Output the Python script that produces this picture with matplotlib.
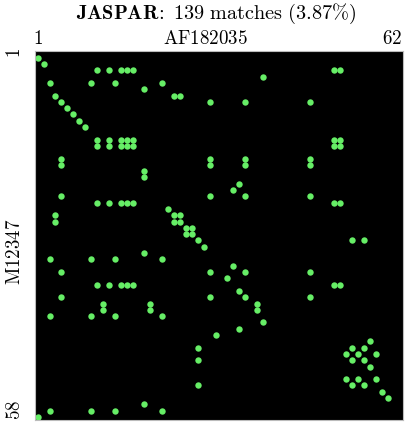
import matplotlib
matplotlib.use("Agg")
import matplotlib.pyplot as plt

plt.rcParams['mathtext.fontset'] = 'cm'

# dot plot of motif matches: sequence on x, motif on y
db_name = "JASPAR"
seq_x = "AF182035"
seq_y = "M12347"
len_x = 62
len_y = 58
n_matches = 139
pct_matches = 3.87

# one entry per match (row in y-sequence, column in x-sequence)
match_rows = [1, 2,
              3, 3, 3, 3, 3, 3, 3,
              4,
              5, 5, 5, 5,
              6,
              7, 7, 7,
              8, 8, 8, 8,
              9, 10, 11, 12,
              14, 14, 14, 14, 14, 14, 14,
              15, 15, 15, 15, 15, 15, 15,
              17, 17, 17, 17,
              18, 18, 18, 18,
              19, 20, 21, 22,
              23, 23, 23, 23,
              24, 24, 24, 24, 24, 24, 24,
              25,
              26, 26, 26,
              27, 27, 27,
              28, 28,
              29, 29,
              30, 30, 30,
              31, 32,
              33, 33, 33, 33,
              34,
              35, 35, 35, 35,
              36,
              37, 37, 37, 37, 37, 37, 37,
              38,
              39, 39, 39, 39,
              40, 40, 40,
              41, 41, 41,
              42, 42, 42, 42,
              43, 44, 45, 46,
              47, 47, 47,
              48, 48, 48,
              49, 49, 49,
              50,
              52, 52, 52,
              53, 53, 53,
              54, 55, 56,
              57, 57, 57, 57,
              58]
match_cols = [1, 2,
              11, 13, 15, 16, 17, 51, 52,
              39,
              3, 10, 14, 22,
              19,
              4, 24, 25,
              5, 30, 36, 47,
              6, 7, 8, 9,
              11, 13, 15, 16, 17, 51, 52,
              11, 13, 15, 16, 17, 51, 52,
              5, 30, 36, 47,
              5, 30, 36, 47,
              19, 19, 35, 34,
              5, 30, 36, 47,
              11, 13, 15, 16, 17, 51, 52,
              23,
              4, 24, 25,
              4, 24, 25,
              26, 27,
              26, 27,
              28, 54, 56,
              29, 19,
              3, 10, 14, 22,
              34,
              5, 30, 36, 47,
              33,
              11, 13, 15, 16, 17, 51, 52,
              35,
              5, 30, 36, 47,
              12, 20, 38,
              12, 20, 38,
              3, 10, 14, 22,
              39, 35, 31, 57,
              28, 54, 56,
              53, 55, 58,
              28, 54, 56,
              57,
              53, 55, 58,
              28, 54, 56,
              59, 60, 19,
              3, 10, 14, 22,
              1]

fig = plt.figure(figsize=(4.07, 4.25), dpi=100)
ax = fig.add_axes([35 / 407, 5 / 425, 368 / 407, 369 / 425])
ax.set_facecolor('black')
ax.plot(match_cols, match_rows, 'o', color='#66ee66', markersize=4.6,
        markeredgewidth=0, linestyle='none')
ax.set_xlim(0.55, 62.6)
ax.set_ylim(58.48, -0.06)
ax.set_xticks([])
ax.set_yticks([])
for s in ax.spines.values():
    s.set_color('#bbbbbb')
    s.set_linewidth(0.8)

fs = 13.7
fig.text(216 / 407, 1 - 14 / 425,
         r'$\mathbf{%s\!:}\ \mathrm{%d\ matches\ (%.2f\%%)}$' % (db_name, n_matches, pct_matches),
         ha='center', va='center', fontsize=14.6)
fig.text(33 / 407, 1 - 39 / 425, r'$\mathrm{1}$', ha='left', va='center', fontsize=fs)
fig.text(205.5 / 407, 1 - 39 / 425, r'$\mathrm{%s}$' % seq_x, ha='center', va='center', fontsize=fs)
fig.text(402 / 407, 1 - 39 / 425, r'$\mathrm{%d}$' % len_x, ha='right', va='center', fontsize=fs)
fig.text(14 / 407, 1 - 48 / 425, r'$\mathrm{1}$', ha='center', va='top', rotation=90, fontsize=fs)
fig.text(14 / 407, 1 - 252 / 425, r'$\mathrm{%s}$' % seq_y, ha='center', va='center', rotation=90, fontsize=fs)
fig.text(14 / 407, 5 / 425, r'$\mathrm{%d}$' % len_y, ha='center', va='bottom', rotation=90, fontsize=fs)

fig.savefig('out.png', dpi=100)
